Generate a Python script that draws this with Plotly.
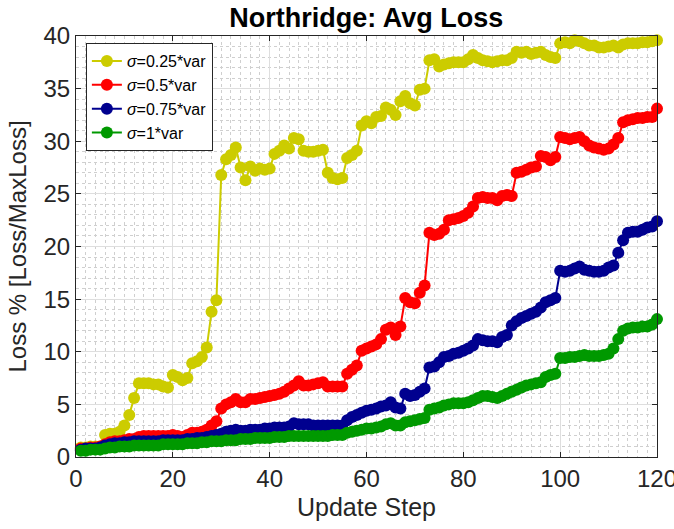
import plotly.graph_objects as go

steps = list(range(1, 121))

loss_025 = [
    0.9, 0.9, 1.0, 1.0, 1.0,
    2.1, 2.2, 2.2, 2.4, 3.0,
    4.0, 5.6, 7.0, 7.0, 7.0,
    6.9, 6.9, 6.7, 6.6, 7.8,
    7.6, 7.3, 7.5, 8.9, 9.1,
    9.5, 10.4, 13.8, 14.9, 26.8,
    28.3, 28.7, 29.4, 27.5, 26.3,
    27.6, 27.2, 27.4, 27.3, 27.4,
    28.8, 29.1, 29.6, 29.3, 30.3,
    30.2, 29.1, 29.0, 29.0, 29.1,
    29.2, 27.0, 26.5, 26.4, 26.5,
    28.4, 28.7, 29.1, 31.5, 31.9,
    31.7, 32.3, 32.4, 33.2, 33.0,
    32.5, 33.8, 34.3, 33.6, 33.4,
    34.9, 35.0, 37.7, 37.8, 37.1,
    37.3, 37.4, 37.5, 37.5, 37.5,
    37.8, 38.2, 37.9, 37.7, 37.6,
    37.5, 37.6, 37.7, 37.7, 37.9,
    38.5, 38.4, 38.5, 38.3, 38.4,
    38.5, 38.2, 38.0, 37.9, 39.3,
    39.4, 39.3, 39.6, 39.5, 39.3,
    39.1, 39.1, 38.9, 38.9, 39.0,
    39.1, 38.9, 39.2, 39.3, 39.3,
    39.3, 39.4, 39.4, 39.5, 39.6,
]

loss_05 = [
    0.8, 0.8, 0.9, 0.9, 1.0,
    1.2, 1.4, 1.5, 1.5, 1.6,
    1.7, 1.7, 1.9, 2.0, 2.0,
    2.0, 2.0, 2.0, 2.0, 2.1,
    2.0, 1.9, 2.1, 2.3, 2.3,
    2.4, 2.6, 3.0, 3.4, 4.6,
    5.0, 5.2, 5.5, 5.2, 5.2,
    5.5, 5.5, 5.6, 5.7, 5.8,
    5.9, 6.0, 6.2, 6.5, 6.8,
    7.2, 6.8, 6.8, 6.9, 7.0,
    7.1, 6.7, 6.7, 6.7, 6.7,
    7.9, 8.3, 8.7, 10.1, 10.3,
    10.5, 10.7, 11.2, 12.1, 12.3,
    11.6, 12.4, 15.1, 14.7, 14.6,
    15.6, 16.3, 21.3, 21.1, 21.2,
    21.6, 22.5, 22.6, 22.7, 22.9,
    23.2, 23.8, 24.6, 24.7, 24.6,
    24.6, 24.4, 24.8, 24.9, 24.8,
    27.0, 27.1, 27.3, 27.5, 27.6,
    28.6, 28.5, 28.2, 28.5, 30.4,
    30.3, 30.2, 30.3, 30.4, 30.0,
    29.6, 29.4, 29.3, 29.2, 29.3,
    29.7, 30.3, 31.8, 32.0, 32.1,
    32.2, 32.2, 32.3, 32.3, 33.1,
]

loss_075 = [
    0.7, 0.8, 0.8, 0.8, 0.9,
    1.1, 1.2, 1.3, 1.3, 1.4,
    1.4, 1.5, 1.5, 1.5, 1.5,
    1.5, 1.5, 1.6, 1.6, 1.6,
    1.6, 1.6, 1.7, 1.7, 1.8,
    1.8, 1.9, 2.0, 2.1, 2.2,
    2.4, 2.5, 2.6, 2.5, 2.5,
    2.6, 2.6, 2.6, 2.7, 2.7,
    2.8, 2.8, 2.8, 2.9, 3.2,
    3.1, 3.1, 3.1, 3.0, 3.0,
    3.0, 3.0, 3.0, 3.0, 3.0,
    3.5, 3.8, 4.0, 4.2, 4.4,
    4.5, 4.6, 4.8, 4.9, 5.2,
    4.7, 4.6, 6.0, 5.8, 5.9,
    6.2, 6.5, 8.5, 8.6, 9.0,
    9.5, 9.6, 9.8, 9.9, 10.1,
    10.3, 10.6, 11.2, 11.1, 11.0,
    11.0, 10.9, 11.4, 11.6, 12.5,
    12.9, 13.2, 13.4, 13.6, 13.8,
    14.2, 14.7, 14.9, 15.1, 17.7,
    17.6, 17.7, 17.9, 18.1, 17.8,
    17.7, 17.6, 17.6, 17.7, 18.0,
    18.2, 19.4, 20.6, 21.3, 21.4,
    21.4, 21.6, 21.8, 21.9, 22.4,
]

loss_1 = [
    0.6, 0.6, 0.7, 0.7, 0.7,
    0.8, 0.9, 0.9, 1.0, 1.0,
    1.0, 1.1, 1.1, 1.1, 1.1,
    1.1, 1.1, 1.2, 1.2, 1.2,
    1.2, 1.2, 1.3, 1.3, 1.3,
    1.4, 1.4, 1.5, 1.5, 1.5,
    1.6, 1.6, 1.6, 1.7, 1.7,
    1.7, 1.8, 1.8, 1.8, 1.8,
    1.9, 1.9, 1.9, 2.0, 2.0,
    2.0, 2.0, 2.0, 2.0, 2.0,
    2.0, 2.0, 2.1, 2.1, 2.1,
    2.3, 2.4, 2.5, 2.6, 2.7,
    2.7, 2.8, 2.9, 3.1, 3.2,
    3.0, 3.0, 3.3, 3.4, 3.5,
    3.6, 3.7, 4.5, 4.6, 4.7,
    4.9, 5.0, 5.1, 5.1, 5.1,
    5.2, 5.4, 5.6, 5.8, 5.8,
    5.7, 5.6, 5.8, 6.0, 6.2,
    6.4, 6.6, 6.8, 6.9, 7.0,
    7.1, 7.6, 7.8, 7.9, 9.4,
    9.4, 9.5, 9.5, 9.6, 9.7,
    9.6, 9.6, 9.6, 9.7, 9.8,
    10.3, 11.2, 12.0, 12.2, 12.3,
    12.3, 12.4, 12.4, 12.6, 13.1,
]

series_names = ["<i>σ</i>=0.25*var", "<i>σ</i>=0.5*var", "<i>σ</i>=0.75*var", "<i>σ</i>=1*var"]
series_values = [loss_025, loss_05, loss_075, loss_1]
series_colors = ["#CCCC00", "#FF0000", "#00008F", "#009900"]

fig = go.Figure()
for name, vals, col in zip(series_names, series_values, series_colors):
    fig.add_trace(go.Scatter(
        x=steps, y=vals, name=name, mode="lines+markers",
        line=dict(color=col, width=2),
        marker=dict(color=col, size=12, line=dict(width=0)),
        cliponaxis=False,
    ))

axis_common = dict(
    showline=True, mirror="ticks", linecolor="#262626", linewidth=1,
    ticks="inside", ticklen=5, tickcolor="#262626",
    showgrid=True, gridcolor="#DEDEDE", gridwidth=1,
    zeroline=False, automargin=False, ticklabeloverflow="allow",
    tickfont=dict(family="Liberation Sans", size=24, color="#262626"),
)

fig.update_layout(
    width=674, height=529,
    margin=dict(l=76, r=17, t=36, b=72, autoexpand=False),
    paper_bgcolor="white", plot_bgcolor="white",
    title=dict(text="<b>Northridge: Avg Loss</b>", x=0.5435, xanchor="center",
               y=0.967, yanchor="middle",
               font=dict(family="Liberation Sans", size=27, color="black")),
    font=dict(family="Liberation Sans", color="#262626"),
    xaxis=dict(range=[0, 120], dtick=20, tick0=0,
               title=dict(text="Update Step", font=dict(size=25, color="#262626"), standoff=7),
               minor=dict(dtick=2, showgrid=True, gridcolor="#CFCFCF", griddash="dot", gridwidth=1, ticks=""),
               **axis_common),
    yaxis=dict(range=[0, 40], dtick=5, tick0=0,
               title=dict(text="Loss % [Loss/MaxLoss]", font=dict(size=24, color="#262626"), standoff=10),
               minor=dict(dtick=1, showgrid=True, gridcolor="#CFCFCF", griddash="dot", gridwidth=1, ticks=""),
               **axis_common),
    legend=dict(x=0.017, y=0.983, xanchor="left", yanchor="top",
                bgcolor="white", bordercolor="#262626", borderwidth=1,
                font=dict(family="Liberation Sans", size=16, color="black"),
                tracegroupgap=0, itemwidth=30),
    showlegend=True,
)

fig.write_html("out.html")
